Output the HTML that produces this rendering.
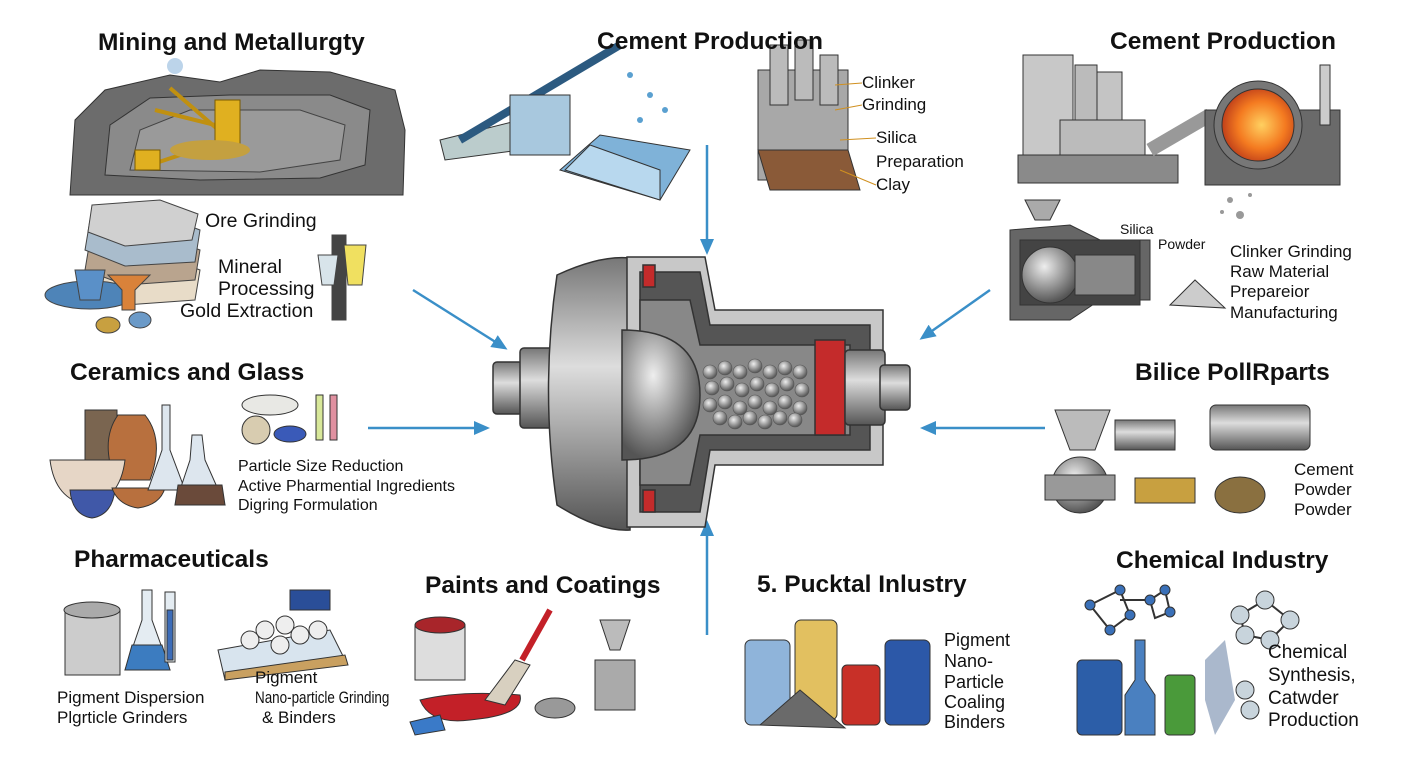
<!DOCTYPE html>
<html><head><meta charset="utf-8"><style>
html,body{margin:0;padding:0;background:#fff;}
#c{position:relative;width:1408px;height:768px;overflow:hidden;font-family:"Liberation Sans",sans-serif;color:#111;}
.t{position:absolute;white-space:nowrap;line-height:1;}
.h{font-weight:bold;font-size:24.5px;}
.s{font-size:19.5px;}
.m{font-size:16px;}
.p{font-size:17px;}
svg{position:absolute;left:0;top:0;}
</style></head><body><div id="c">
<svg width="1408" height="768" viewBox="0 0 1408 768">
<defs>
<marker id="ar" markerWidth="16" markerHeight="16" refX="13" refY="8" orient="auto" markerUnits="userSpaceOnUse"><path d="M0,1 L16,8 L0,15 z" fill="#3a8fc8"/></marker>
<radialGradient id="ball" cx="40%" cy="35%" r="65%"><stop offset="0" stop-color="#eee"/><stop offset="1" stop-color="#555"/></radialGradient>
<linearGradient id="met" x1="0" y1="0" x2="0" y2="1"><stop offset="0" stop-color="#777"/><stop offset=".4" stop-color="#ddd"/><stop offset="1" stop-color="#555"/></linearGradient>
<radialGradient id="kiln" cx="55%" cy="50%" r="55%"><stop offset="0" stop-color="#ffd060"/><stop offset=".6" stop-color="#f47a20"/><stop offset="1" stop-color="#c0401a"/></radialGradient>
</defs>
<g stroke="#3a8fc8" stroke-width="2.5" fill="none" marker-end="url(#ar)">
<line x1="413" y1="290" x2="505" y2="348"/>
<line x1="707" y1="145" x2="707" y2="252"/>
<line x1="990" y1="290" x2="922" y2="338"/>
<line x1="368" y1="428" x2="487" y2="428"/>
<line x1="1045" y1="428" x2="923" y2="428"/>
<line x1="707" y1="635" x2="707" y2="523"/>
</g>
<path d="M70,195 L75,120 L105,90 L170,75 L220,82 L260,70 L330,72 L395,90 L405,130 L403,195 Z" fill="#6c6c6c" stroke="#333"/>
<path d="M105,175 L110,125 L150,98 L230,95 L330,95 L370,110 L365,165 L320,178 L200,180 Z" fill="#8a8a8a" stroke="#333"/>
<path d="M130,170 L140,130 L190,110 L300,110 L345,125 L340,160 L260,172 Z" fill="#9a9a9a" stroke="#444"/>
<g stroke="#c09010" stroke-width="4"><line x1="170" y1="88" x2="230" y2="140"/><line x1="155" y1="110" x2="235" y2="130"/><line x1="150" y1="165" x2="225" y2="140"/></g>
<rect x="215" y="100" width="25" height="45" fill="#e0b020" stroke="#7a5a00"/>
<rect x="135" y="150" width="25" height="20" fill="#e0b020" stroke="#7a5a00"/>
<ellipse cx="210" cy="150" rx="40" ry="10" fill="#c4a040"/>
<circle cx="175" cy="66" r="8" fill="#bcd4ea"/>
<g stroke="#444"><path d="M90,260 L160,255 L200,270 L195,300 L125,305 L85,290Z" fill="#e8dcc8"/>
<path d="M90,240 L160,235 L200,250 L195,280 L125,285 L85,270Z" fill="#b9a48e"/>
<path d="M90,220 L160,215 L200,230 L195,262 L125,266 L85,250Z" fill="#a9bccc"/>
<path d="M92,205 L160,200 L198,214 L192,240 L125,246 L88,232Z" fill="#d0d0d0"/>
<ellipse cx="90" cy="295" rx="45" ry="14" fill="#4e84b8"/>
<path d="M75,270 L105,270 L100,300 L80,300Z" fill="#5a90c8"/>
<path d="M108,275 L150,275 L135,290 L135,310 L122,310 L122,290Z" fill="#d9823a"/>
<ellipse cx="108" cy="325" rx="12" ry="8" fill="#c8a040"/>
<ellipse cx="140" cy="320" rx="11" ry="8" fill="#6b9ac8"/>
<rect x="332" y="235" width="14" height="85" fill="#444"/>
<path d="M318,255 L338,255 L334,285 L322,285Z" fill="#d8e4ea"/>
<path d="M344,245 L366,245 L362,285 L348,285Z" fill="#f0e060"/></g>
<g stroke="#333">
<path d="M440,140 L520,120 L520,150 L445,160Z" fill="#bcc"/>
<line x1="460" y1="140" x2="620" y2="45" stroke="#2c5a80" stroke-width="8"/>
<rect x="510" y="95" width="60" height="60" fill="#a8c8de"/>
<path d="M560,170 L600,135 L690,150 L660,200 Z" fill="#7fb2d8"/>
<path d="M565,170 L660,200 L660,170 L590,145Z" fill="#b8d8ee"/>
<rect x="758" y="70" width="90" height="110" fill="#a8a8a8"/>
<rect x="770" y="45" width="18" height="60" fill="#bbb"/><rect x="795" y="40" width="18" height="60" fill="#bbb"/><rect x="820" y="55" width="18" height="50" fill="#bbb"/>
<path d="M758,150 L848,150 L860,190 L770,190Z" fill="#8a5a38"/>
</g>
<g fill="#5aa0d0"><circle cx="630" cy="75" r="3"/><circle cx="650" cy="95" r="3"/><circle cx="640" cy="120" r="3"/><circle cx="665" cy="110" r="3"/></g>
<g stroke="#d09020" stroke-width="1"><line x1="835" y1="85" x2="862" y2="83"/><line x1="835" y1="110" x2="862" y2="105"/><line x1="840" y1="140" x2="876" y2="138"/><line x1="840" y1="170" x2="876" y2="185"/></g>
<g stroke="#333">
<rect x="1023" y="55" width="50" height="100" fill="#c8c8c8"/><rect x="1075" y="65" width="22" height="90" fill="#bbb"/><rect x="1097" y="72" width="25" height="83" fill="#c4c4c4"/>
<rect x="1060" y="120" width="85" height="35" fill="#bbb"/>
<rect x="1018" y="155" width="160" height="28" fill="#8a8a8a"/>
<line x1="1150" y1="150" x2="1210" y2="115" stroke="#999" stroke-width="14"/>
<rect x="1205" y="110" width="135" height="75" fill="#6a6a6a"/>
<rect x="1320" y="65" width="10" height="60" fill="#ccc"/>
<circle cx="1258" cy="125" r="44" fill="#777"/>
<circle cx="1258" cy="125" r="36" fill="url(#kiln)"/>
<path d="M1025,200 L1060,200 L1050,220 L1035,220Z" fill="#aaa"/>
<path d="M1010,230 L1070,225 L1100,240 L1150,240 L1150,300 L1100,300 L1070,320 L1010,320Z" fill="#666"/>
<rect x="1020" y="240" width="120" height="65" fill="#444"/>
<circle cx="1050" cy="275" r="28" fill="url(#ball)"/>
<rect x="1075" y="255" width="60" height="40" fill="#888"/>
<path d="M1170,305 L1195,280 L1225,308Z" fill="#ccc"/>
</g>
<g fill="#999"><circle cx="1230" cy="200" r="3"/><circle cx="1240" cy="215" r="4"/><circle cx="1222" cy="212" r="2"/><circle cx="1250" cy="195" r="2"/></g>
<g stroke="#333" stroke-width="1.5">
<rect x="493" y="362" width="30" height="52" rx="4" fill="url(#met)"/>
<rect x="520" y="348" width="40" height="80" rx="4" fill="url(#met)"/>
<path d="M557,275 Q600,255 630,258 L630,530 Q600,532 557,505 Q540,390 557,275Z" fill="url(#met)"/>
<path d="M627,257 L705,257 L715,310 L883,310 L883,465 L715,465 L705,527 L627,527Z" fill="#c8c8c8"/>
<path d="M640,272 L700,272 L710,325 L870,325 L870,450 L710,450 L700,512 L640,512Z" fill="#555"/>
<path d="M640,300 L690,300 L700,345 L850,345 L850,435 L700,435 L690,485 L640,485Z" fill="#888"/>
<path d="M622,330 Q700,330 700,395 Q700,460 622,460Z" fill="url(#ball)"/>
<rect x="815" y="340" width="30" height="95" fill="#c42b2b"/>
<rect x="643" y="265" width="12" height="22" fill="#c42b2b"/><rect x="643" y="490" width="12" height="22" fill="#c42b2b"/>
<rect x="845" y="350" width="40" height="75" rx="4" fill="url(#met)"/>
<rect x="880" y="365" width="30" height="45" rx="4" fill="url(#met)"/>
</g>
<g fill="url(#ball)" stroke="#555" stroke-width=".6">
<circle cx="710" cy="372" r="7"/><circle cx="725" cy="368" r="7"/><circle cx="740" cy="372" r="7"/><circle cx="755" cy="366" r="7"/><circle cx="770" cy="372" r="7"/><circle cx="785" cy="368" r="7"/><circle cx="800" cy="372" r="7"/>
<circle cx="712" cy="388" r="7"/><circle cx="727" cy="384" r="7"/><circle cx="742" cy="390" r="7"/><circle cx="757" cy="384" r="7"/><circle cx="772" cy="390" r="7"/><circle cx="787" cy="384" r="7"/><circle cx="802" cy="390" r="7"/>
<circle cx="710" cy="405" r="7"/><circle cx="725" cy="402" r="7"/><circle cx="740" cy="408" r="7"/><circle cx="755" cy="402" r="7"/><circle cx="770" cy="408" r="7"/><circle cx="785" cy="402" r="7"/><circle cx="800" cy="408" r="7"/>
<circle cx="720" cy="418" r="7"/><circle cx="735" cy="422" r="7"/><circle cx="750" cy="418" r="7"/><circle cx="765" cy="422" r="7"/><circle cx="780" cy="418" r="7"/><circle cx="795" cy="420" r="7"/>
</g>
<g stroke="#333">
<rect x="85" y="410" width="32" height="60" fill="#7a6550"/>
<path d="M118,415 Q100,440 115,480 L150,480 Q165,440 145,415Z" fill="#b8703e"/>
<path d="M50,460 L125,460 Q120,500 88,505 Q55,500 50,460Z" fill="#e6d6c6"/>
<path d="M70,490 L115,490 Q112,515 92,518 Q72,515 70,490Z" fill="#4058a8"/>
<path d="M112,488 L165,488 Q160,505 138,508 Q118,505 112,488Z" fill="#b8703e"/>
<path d="M162,405 L170,405 L170,450 L185,490 L148,490 L162,450Z" fill="#dde6ee"/>
<path d="M192,435 L202,435 L205,460 L225,505 L175,505 L190,460Z" fill="#dde6ee"/>
<path d="M178,485 L222,485 L225,505 L175,505Z" fill="#6a4a3a"/>
<ellipse cx="270" cy="405" rx="28" ry="10" fill="#e8e8e4"/>
<circle cx="256" cy="430" r="14" fill="#d8ccb0"/>
<ellipse cx="290" cy="434" rx="16" ry="8" fill="#3a5ab8"/>
<rect x="316" y="395" width="7" height="45" fill="#d8e89a"/><rect x="330" y="395" width="7" height="45" fill="#e090a0"/>
<rect x="65" y="610" width="55" height="65" fill="#ccc"/><ellipse cx="92" cy="610" rx="28" ry="8" fill="#aaa"/>
<path d="M142,590 L152,590 L152,620 L170,670 L125,670 L142,620Z" fill="#e4ecf2"/>
<path d="M132,645 L162,645 L170,670 L125,670Z" fill="#3c7cc0"/>
<rect x="165" y="592" width="10" height="70" fill="#e4ecf2"/><rect x="167" y="610" width="6" height="50" fill="#3c6cb8"/>
<path d="M218,650 L330,630 L345,660 L225,680Z" fill="#d8e4ee"/>
<path d="M225,672 L345,655 L348,665 L225,680Z" fill="#c9a060"/>
<rect x="290" y="590" width="40" height="20" fill="#2a4e98"/>
<g fill="#eee"><circle cx="265" cy="630" r="9"/><circle cx="285" cy="625" r="9"/><circle cx="300" cy="635" r="9"/><circle cx="318" cy="630" r="9"/><circle cx="280" cy="645" r="9"/><circle cx="250" cy="640" r="9"/></g>
<rect x="415" y="625" width="50" height="55" fill="#ddd"/><ellipse cx="440" cy="625" rx="25" ry="8" fill="#a8252a"/>
<path d="M420,700 Q460,690 520,695 Q525,715 470,720 Q430,725 420,700Z" fill="#c32028"/>
<path d="M485,700 L515,660 L530,665 L505,705Z" fill="#d8d0c0"/>
<line x1="522" y1="660" x2="550" y2="610" stroke="#c32028" stroke-width="6"/>
<path d="M410,722 L440,715 L445,730 L415,735Z" fill="#3a7ac8"/>
<ellipse cx="555" cy="708" rx="20" ry="10" fill="#999"/>
<rect x="595" y="660" width="40" height="50" fill="#aaa"/><path d="M600,620 L630,620 L620,650 L610,650Z" fill="#bbb"/>
<rect x="745" y="640" width="45" height="85" rx="6" fill="#8fb4da"/>
<rect x="795" y="620" width="42" height="100" rx="6" fill="#e2c060"/>
<rect x="842" y="665" width="38" height="60" rx="5" fill="#c83028"/>
<rect x="885" y="640" width="45" height="85" rx="6" fill="#2c58a8"/>
<path d="M760,725 L800,690 L845,728Z" fill="#6a6a6a"/>
<path d="M1055,410 L1110,410 L1095,450 L1070,450Z" fill="#bbb"/>
<circle cx="1080" cy="485" r="28" fill="url(#ball)"/>
<rect x="1045" y="475" width="70" height="25" fill="#999"/>
<rect x="1135" y="478" width="60" height="25" fill="#c8a040"/>
<rect x="1115" y="420" width="60" height="30" fill="url(#met)"/>
<rect x="1210" y="405" width="100" height="45" rx="6" fill="url(#met)"/>
<ellipse cx="1240" cy="495" rx="25" ry="18" fill="#8a7040"/>
<g stroke-width="2" fill="none"><path d="M1090,605 L1120,590 L1130,615 L1110,630 Z"/><line x1="1120" y1="600" x2="1150" y2="600"/><path d="M1150,600 L1165,590 L1170,612 L1155,618Z"/><path d="M1240,615 L1265,600 L1290,620 L1270,640 L1245,635Z"/></g>
<g fill="#3a70b8"><circle cx="1090" cy="605" r="5"/><circle cx="1120" cy="590" r="5"/><circle cx="1130" cy="615" r="5"/><circle cx="1110" cy="630" r="5"/><circle cx="1150" cy="600" r="5"/><circle cx="1165" cy="590" r="5"/><circle cx="1170" cy="612" r="5"/></g>
<g fill="#c8d4dc"><circle cx="1240" cy="615" r="9"/><circle cx="1265" cy="600" r="9"/><circle cx="1290" cy="620" r="9"/><circle cx="1270" cy="640" r="9"/><circle cx="1245" cy="635" r="9"/><circle cx="1245" cy="690" r="9"/><circle cx="1250" cy="710" r="9"/></g>
<rect x="1077" y="660" width="45" height="75" rx="5" fill="#2c5ea8"/>
<path d="M1135,640 L1145,640 L1145,680 L1155,695 L1155,735 L1125,735 L1125,695 L1135,680Z" fill="#4a80c0"/>
<rect x="1165" y="675" width="30" height="60" rx="4" fill="#4a9a3a"/>
<path d="M1205,660 L1225,640 L1235,700 L1215,735 L1205,700Z" fill="#aab8cc" stroke="none"/>
</g>
</svg>
<div class="t h" style="left:98px;top:31px">Mining and Metallurgty</div>
<div class="t h" style="left:597px;top:30px">Cement Production</div>
<div class="t h" style="left:1110px;top:30px">Cement Production</div>
<div class="t s" style="left:205px;top:212px">Ore Grinding</div>
<div class="t s" style="left:218px;top:258px">Mineral</div>
<div class="t s" style="left:218px;top:280px">Processing</div>
<div class="t s" style="left:180px;top:302px">Gold Extraction</div>
<div class="t p" style="left:862px;top:74px">Clinker</div>
<div class="t p" style="left:862px;top:96px">Grinding</div>
<div class="t p" style="left:876px;top:129px">Silica</div>
<div class="t p" style="left:876px;top:153px">Preparation</div>
<div class="t p" style="left:876px;top:176px">Clay</div>
<div class="t" style="left:1120px;top:222px;font-size:14px">Silica</div>
<div class="t" style="left:1158px;top:237px;font-size:14px">Powder</div>
<div class="t p" style="left:1230px;top:243px">Clinker Grinding</div>
<div class="t p" style="left:1230px;top:263px">Raw Material</div>
<div class="t p" style="left:1230px;top:283px">Prepareior</div>
<div class="t p" style="left:1230px;top:304px">Manufacturing</div>
<div class="t h" style="left:70px;top:361px">Ceramics and Glass</div>
<div class="t h" style="left:1135px;top:361px">Bilice PollRparts</div>
<div class="t m" style="left:238px;top:459px">Particle Size Reduction</div>
<div class="t m" style="left:238px;top:479px">Active Pharmential Ingredients</div>
<div class="t m" style="left:238px;top:498px">Digring Formulation</div>
<div class="t p" style="left:1294px;top:461px">Cement</div>
<div class="t p" style="left:1294px;top:481px">Powder</div>
<div class="t p" style="left:1294px;top:501px">Powder</div>
<div class="t h" style="left:74px;top:548px">Pharmaceuticals</div>
<div class="t h" style="left:1116px;top:549px">Chemical Industry</div>
<div class="t h" style="left:425px;top:574px">Paints and Coatings</div>
<div class="t h" style="left:757px;top:573px">5. Pucktal Inlustry</div>
<div class="t p" style="left:57px;top:689px">Pigment Dispersion</div>
<div class="t p" style="left:57px;top:709px">Plgrticle Grinders</div>
<div class="t p" style="left:255px;top:669px">Pigment</div>
<div class="t p" style="left:255px;top:689px;transform:scaleX(0.79);transform-origin:left top">Nano-particle Grinding</div>
<div class="t p" style="left:262px;top:709px">&amp; Binders</div>
<div class="t" style="left:944px;top:631px;font-size:18px">Pigment</div>
<div class="t" style="left:944px;top:652px;font-size:18px">Nano-</div>
<div class="t" style="left:944px;top:673px;font-size:18px">Particle</div>
<div class="t" style="left:944px;top:693px;font-size:18px">Coaling</div>
<div class="t" style="left:944px;top:713px;font-size:18px">Binders</div>
<div class="t" style="left:1268px;top:643px;font-size:19px">Chemical</div>
<div class="t" style="left:1268px;top:666px;font-size:19px">Synthesis,</div>
<div class="t" style="left:1268px;top:689px;font-size:19px">Catwder</div>
<div class="t" style="left:1268px;top:711px;font-size:19px">Production</div>
</div></body></html>
